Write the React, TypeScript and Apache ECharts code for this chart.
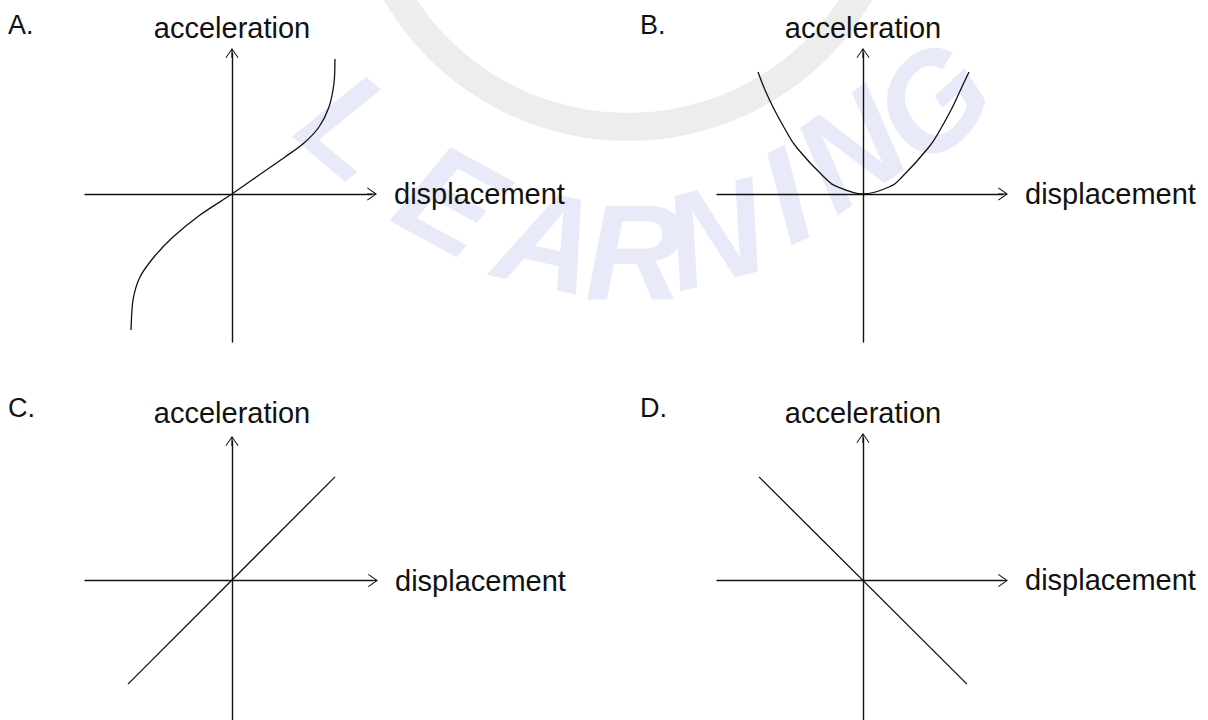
import React, { useEffect, useRef } from "react";
import * as echarts from "echarts";

// ---- data (units: arbitrary, origin at axes intersection) ----
const panelLabels = ["A.", "B.", "C.", "D."];
const xAxisName = "displacement";
const yAxisName = "acceleration";

// A: S-shaped curve, steep at both ends
const curveA: [number, number][] = [
  [-10.1, -13.6], [-9.9, -10.6], [-9.2, -8.3], [-7.8, -6.3], [-5.9, -4.3],
  [-3.2, -2.1], [0, 0], [3.0, 2.1], [5.3, 3.7], [7.2, 5.1], [8.7, 6.7],
  [9.7, 8.7], [10.2, 11.1], [10.3, 13.5],
];
// B: parabola, vertex at origin
const curveB: [number, number][] = [
  [-10.5, 12.2], [-9.8, 10.4], [-8.9, 8.5], [-7.75, 6.4], [-6.6, 4.6],
  [-3.8, 1.6], [-2.5, 0.7], [0, 0], [2.6, 0.7], [3.9, 1.7],
  [6.6, 4.7], [7.7, 6.4], [8.8, 8.4], [9.75, 10.4], [10.6, 12.2],
];
// C: straight line, positive slope through origin
const curveC: [number, number][] = [[-10.4, -10.4], [10.3, 10.4]];
// D: straight line, negative slope through origin
const curveD: [number, number][] = [[-10.4, 10.4], [10.4, -10.4]];

const xRanges: [number, number][] = [[-14.7, 14.0], [-14.6, 14.0], [-14.7, 14.1], [-14.6, 14.0]];
const yRanges: [number, number][] = [[-14.8, 14.1], [-14.8, 14.1], [-14.0, 14.0], [-14.0, 14.3]];

const FONT = "'Liberation Sans', Arial, Helvetica, sans-serif";
const INK = "#111111";
// open chevron arrowhead with a stem, pointing up
const CHEVRON =
  "path://M6.5,0 L13,9.4 L12.2,10 L7.1,2.6 L7.1,10 L5.9,10 L5.9,2.6 L0.8,10 L0,9.4 Z";

const gridBoxes = [
  { left: 85, top: 53, width: 287, height: 289 },
  { left: 717, top: 53, width: 286, height: 289 },
  { left: 85, top: 441, width: 288, height: 280 },
  { left: 717, top: 438, width: 286, height: 283 },
];
const yNameGaps = [11, 11, 14, 11];
const labelPos = [
  { left: 8, top: 11 },
  { left: 640, top: 11 },
  { left: 8, top: 394 },
  { left: 640, top: 394 },
];

const watermarkLetters = [
  { ch: "L", x: 352, y: 126, r: -0.7 },
  { ch: "E", x: 450, y: 200, r: -0.5 },
  { ch: "A", x: 548, y: 240, r: -0.22 },
  { ch: "R", x: 634, y: 252, r: 0.0 },
  { ch: "N", x: 714, y: 234, r: 0.25 },
  { ch: "I", x: 786, y: 196, r: 0.45 },
  { ch: "N", x: 850, y: 150, r: 0.6 },
  { ch: "G", x: 932, y: 102, r: 0.75 },
];

// smooth curve through the data points (Catmull-Rom rendered as cubic Béziers)
function smoothCurveSeries(curve: [number, number][], idx: number) {
  return {
    type: "custom",
    xAxisIndex: idx,
    yAxisIndex: idx,
    data: curve,
    encode: { x: 0, y: 1 },
    silent: true,
    clip: false,
    renderItem: (params: any, api: any) => {
      if (params.dataIndex !== 0) return null;
      const pts = curve.map((p) => api.coord(p));
      const n = pts.length;
      let d = `M${pts[0][0]},${pts[0][1]}`;
      for (let i = 0; i < n - 1; i++) {
        const p0 = pts[Math.max(i - 1, 0)];
        const p1 = pts[i];
        const p2 = pts[i + 1];
        const p3 = pts[Math.min(i + 2, n - 1)];
        const c1x = p1[0] + (p2[0] - p0[0]) / 6;
        const c1y = p1[1] + (p2[1] - p0[1]) / 6;
        const c2x = p2[0] - (p3[0] - p1[0]) / 6;
        const c2y = p2[1] - (p3[1] - p1[1]) / 6;
        d += ` C${c1x},${c1y} ${c2x},${c2y} ${p2[0]},${p2[1]}`;
      }
      return {
        type: "path",
        shape: { pathData: d },
        style: { stroke: INK, lineWidth: 1.3, fill: "none" },
      };
    },
  };
}

export default function App() {
  const ref = useRef<HTMLDivElement>(null);
  useEffect(() => {
    if (!ref.current) return;
    const chart = echarts.init(ref.current, undefined, { renderer: "svg" });

    const option: any = {
      animation: false,
      backgroundColor: "#ffffff",
      graphic: [
        {
          type: "arc",
          z: -10,
          silent: true,
          shape: { cx: 628, cy: -141, r: 268, startAngle: 0.08 * Math.PI, endAngle: 0.92 * Math.PI },
          style: { stroke: "#ededed", lineWidth: 28, fill: "none" },
        },
        ...watermarkLetters.map((l) => ({
          type: "text",
          z: -9,
          silent: true,
          x: l.x,
          y: l.y,
          rotation: l.r,
          style: {
            text: l.ch,
            fill: "#e8eaf9",
            font: `italic 900 136px ${FONT}`,
            textAlign: "center",
            verticalAlign: "middle",
          },
        })),
      ],
      title: panelLabels.map((t, i) => ({
        text: t,
        left: labelPos[i].left,
        top: labelPos[i].top,
        padding: 0,
        textStyle: { fontSize: 27, fontWeight: "normal", color: INK, fontFamily: FONT },
      })),
      grid: gridBoxes.map((g) => ({ ...g, containLabel: false })),
      xAxis: xRanges.map((r, i) => ({
        type: "value",
        gridIndex: i,
        min: r[0],
        max: r[1],
        name: xAxisName,
        nameLocation: "end",
        nameGap: 22,
        nameTextStyle: {
          fontSize: 29,
          color: INK,
          fontFamily: FONT,
          verticalAlign: "middle",
          padding: [0, 0, 11, 0],
        },
        axisLine: {
          show: true,
          onZero: true,
          symbol: ["none", CHEVRON],
          symbolSize: [13, 10],
          lineStyle: { color: INK, width: 1.4 },
        },
        axisTick: { show: false },
        axisLabel: { show: false },
        splitLine: { show: false },
      })),
      yAxis: yRanges.map((r, i) => ({
        type: "value",
        gridIndex: i,
        min: r[0],
        max: r[1],
        name: yAxisName,
        nameLocation: "end",
        nameGap: yNameGaps[i],
        nameTextStyle: { fontSize: 29, color: INK, fontFamily: FONT, align: "center" },
        axisLine: {
          show: true,
          onZero: true,
          symbol: ["none", CHEVRON],
          symbolSize: [13, 10],
          lineStyle: { color: INK, width: 1.4 },
        },
        axisTick: { show: false },
        axisLabel: { show: false },
        splitLine: { show: false },
      })),
      series: [
        smoothCurveSeries(curveA, 0),
        smoothCurveSeries(curveB, 1),
        ...[curveC, curveD].map((c, k) => ({
          type: "line",
          xAxisIndex: k + 2,
          yAxisIndex: k + 2,
          data: c,
          showSymbol: false,
          silent: true,
          clip: false,
          lineStyle: { color: INK, width: 1.3 },
        })),
      ],
    };
    chart.setOption(option);
    return () => chart.dispose();
  }, []);
  return (
    <div
      ref={ref}
      style={{ position: "fixed", left: 0, top: 0, width: 1208, height: 720 }}
    />
  );
}
